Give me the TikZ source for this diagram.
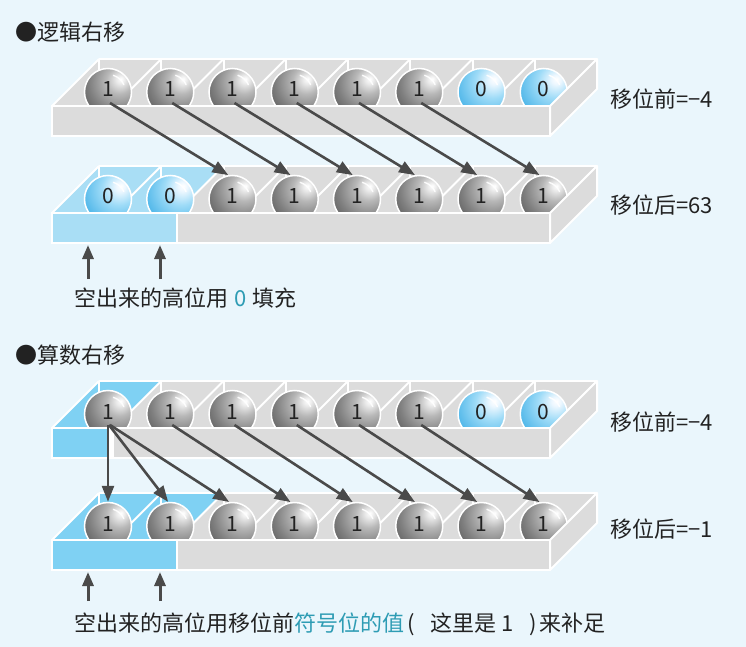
\documentclass[tikz,border=0pt]{standalone}
\usepackage{fontspec}
\setmainfont{Noto Sans CJK SC}
\usetikzlibrary{arrows.meta}
\definecolor{bgc}{HTML}{EAF6FC}
\definecolor{traygray}{HTML}{DCDCDC}
\definecolor{lblue}{HTML}{A9DEF5}
\definecolor{sblue}{HTML}{7FD1F3}
\definecolor{arrc}{HTML}{4A4A4A}
\definecolor{tealc}{HTML}{2E9CB4}
\definecolor{txtc}{HTML}{222222}
\pgfdeclareradialshading{grayballsh}{\pgfpoint{14bp}{14bp}}{rgb(0bp)=(1,1,1); rgb(4bp)=(0.93,0.93,0.93); rgb(14bp)=(0.72,0.72,0.72); rgb(30bp)=(0.5,0.5,0.5); rgb(46bp)=(0.32,0.32,0.32); rgb(62bp)=(0.2,0.2,0.2); rgb(100bp)=(0.18,0.18,0.18)}
\pgfdeclareradialshading{blueballsh}{\pgfpoint{14bp}{14bp}}{rgb(0bp)=(1,1,1); rgb(5bp)=(0.93,0.97,1); rgb(18bp)=(0.62,0.86,0.97); rgb(38bp)=(0.3,0.71,0.91); rgb(56bp)=(0.13,0.6,0.87); rgb(100bp)=(0.1,0.55,0.85)}
\newcommand\TrayTop[1]{%
  \fill[traygray] (52,#1) -- (550,#1) -- (597,#1-47) -- (99,#1-47) -- cycle;}
\newcommand\BlueCell[3]{%
  \fill[#3] ({52+62.25*#2},#1) -- ({114.25+62.25*#2},#1) -- ({161.25+62.25*#2},#1-47) -- ({99+62.25*#2},#1-47) -- cycle;}
\newcommand\TrayLines[1]{%
  \foreach \k in {0,...,8} {\draw[wline] ({52+62.25*\k},#1) -- ({99+62.25*\k},#1-47);}
  \foreach \k in {0,...,7} {\draw[wline] ({99+62.25*\k},#1-47) -- ({99+62.25*\k},#1-22);}
  \draw[wline] (99,#1-47) -- (597,#1-47);}
\newcommand\TrayFront[1]{%
  \filldraw[fill=white,draw=white,line width=2pt] (52,#1) rectangle (550,#1+30);
  \filldraw[fill=traygray,wline] (550,#1) -- (597,#1-47) -- (597,#1-17) -- (550,#1+30) -- cycle;}
\newcommand\fsz{\fontsize{22}{22}\selectfont}
\begin{document}
\begin{tikzpicture}[x=1pt,y=-1pt,
  wline/.style={draw=white,line width=2pt,line join=round},
  ball/.style={circle,draw=white,line width=1.5pt,minimum size=47pt,inner sep=0pt,
    text height=15pt,text depth=5pt,text=txtc,font=\fontsize{21}{21}\selectfont,
    path picture={\draw[white,line width=1.4pt,opacity=0.9,line cap=round]
      ([shift={(-25:17.5)}]path picture bounding box.center) arc[start angle=-25,end angle=-72,radius=17.5];}},
  gball/.style={ball,shading=grayballsh},
  bball/.style={ball,shading=blueballsh},
  arr/.style={draw=arrc,line width=2.6pt,-{Triangle[length=16pt,width=12pt]}},
  uparr/.style={draw=arrc,line width=3pt,-{Triangle[length=14pt,width=11pt]}},
  txt/.style={anchor=west,inner sep=0pt,text=txtc,font=\fsz}]
\fill[bgc] (0,0) rectangle (746,647);
\useasboundingbox (0,0) rectangle (746,647);

% headers
\node[txt] (h1) at (15,32) {●逻辑右移};
\node[txt] (h2) at (15,355) {●算数右移};

% ---------- tray 1 (ft=106)
\TrayTop{106}
\TrayLines{106}
\foreach \i in {0,...,5} \node[gball] (a1-\i) at ({108+62.25*\i},92) {1};
\foreach \i in {6,7} \node[bball] (a1-\i) at ({108+62.25*\i},92) {0};
\TrayFront{106}
\fill[traygray] (53,107) rectangle (549,135);

% ---------- tray 2 (ft=213)
\TrayTop{213}
\BlueCell{213}{0}{lblue}
\BlueCell{213}{1}{lblue}
\TrayLines{213}
\foreach \i in {0,1} \node[bball] (a2-\i) at ({108+62.25*\i},199) {0};
\foreach \i in {2,...,7} \node[gball] (a2-\i) at ({108+62.25*\i},199) {1};
\TrayFront{213}
\fill[lblue] (53,214) rectangle (175.5,242);
\fill[traygray] (177.5,214) rectangle (549,242);

% ---------- tray 3 (ft=428)
\TrayTop{428}
\BlueCell{428}{0}{sblue}
\TrayLines{428}
\foreach \i in {0,...,5} \node[gball] (a3-\i) at ({108+62.25*\i},414) {1};
\foreach \i in {6,7} \node[bball] (a3-\i) at ({108+62.25*\i},414) {0};
\TrayFront{428}
\fill[sblue] (53,429) rectangle (109,457);
\fill[traygray] (114,429) rectangle (549,457);

% ---------- tray 4 (ft=540)
\TrayTop{540}
\BlueCell{540}{0}{sblue}
\BlueCell{540}{1}{sblue}
\TrayLines{540}
\foreach \i in {0,...,7} \node[gball] (a4-\i) at ({108+62.25*\i},526) {1};
\TrayFront{540}
\fill[sblue] (53,541) rectangle (175.5,569);
\fill[traygray] (177.5,541) rectangle (549,569);

% arrows logical
\foreach \i [evaluate=\i as \j using int(\i+2)] in {0,...,5}
  \draw[arr] ([shift={(2,11)}]a1-\i.center) -- (a2-\j.100);
% arrows arithmetic
\draw[arr] ([shift={(0,11)}]a3-0.center) -- (a4-0.north);
\draw[arr] ([shift={(1,11)}]a3-0.center) -- (a4-1.95);
\draw[arr] ([shift={(2,11)}]a3-0.center) -- (a4-2.98);
\foreach \i [evaluate=\i as \j using int(\i+2)] in {1,...,5}
  \draw[arr] ([shift={(2,11)}]a3-\i.center) -- (a4-\j.100);

% value labels
\node[txt] (v1) at (610,99) {移位前=−4};
\node[txt] (v2) at (610,205) {移位后=63};
\node[txt] (v3) at (610,422) {移位前=−4};
\node[txt] (v4) at (610,529) {移位后=−1};

% notes
\node[txt] (n1) at (74,298) {空出来的高位用\hspace{1pt} \textcolor{tealc}{0}\hspace{1pt} 填充};
\node[txt] (n2) at (74,624) {空出来的高位用移位前\textcolor{tealc}{符号位的值}\hspace{3pt}(\hspace{16pt}这里是 1\hspace{16pt})\hspace{2pt}来补足};

\coordinate (u1s) at (88,279);
\coordinate (u1e) at (88,245);
\coordinate (u2s) at (160,279);
\coordinate (u2e) at (160,245);
\coordinate (u3s) at (88,601);
\coordinate (u3e) at (88,572);
\coordinate (u4s) at (160,601);
\coordinate (u4e) at (160,572);
\draw[uparr] (u1s) -- (u1e);
\draw[uparr] (u2s) -- (u2e);
\draw[uparr] (u3s) -- (u3e);
\draw[uparr] (u4s) -- (u4e);
\end{tikzpicture}
\end{document}
